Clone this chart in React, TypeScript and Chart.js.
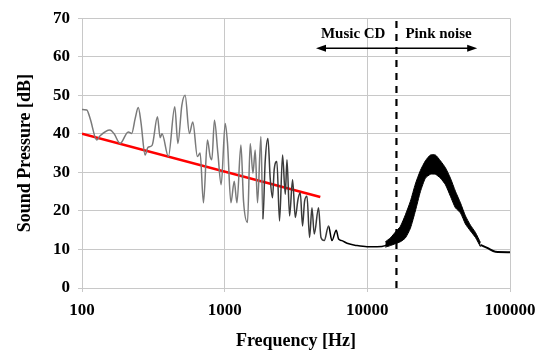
import React, { useEffect, useRef } from 'react';
import { Chart, registerables } from 'chart.js';

Chart.register(...registerables);

// Measured spectrum (music CD part and transition)
const freqHz = [100, 108, 114, 127, 134, 157, 168, 185, 211, 223, 236, 248, 259, 277, 290, 310, 338, 353, 364, 403, 447, 470, 501, 528, 566, 598, 644, 673, 710, 757, 791, 813, 848, 896, 945, 1009, 1047, 1106, 1167, 1219, 1300, 1356, 1446, 1510, 1578, 1637, 1699, 1795, 1854, 1923, 2010, 2085, 2164, 2224, 2323, 2424, 2546, 2660, 2734, 2851, 2992, 3126, 3266, 3388, 3516, 3631, 3776, 3937, 4091, 4246, 4550, 4732, 4989, 5348, 5649, 6053, 6289, 6637, 7206, 8472, 9954, 11695, 13366, 14894, 16144];
const soundDb = [46.3, 46.2, 44, 38.4, 39.5, 41, 40, 37.5, 40.5, 40.1, 44, 46.8, 43, 34.5, 36.5, 37, 44.4, 39, 40, 34.1, 47, 37.5, 47.4, 50, 40.1, 43.1, 34.1, 35, 22.1, 38.4, 34.1, 33.3, 43.5, 35, 26.8, 42.7, 37.5, 22.1, 27.7, 22.1, 37.1, 22.5, 17, 37.5, 29.8, 35.8, 22.1, 39.3, 17.8, 32.8, 38.8, 28.5, 23.4, 30.7, 32.8, 17.4, 34.5, 24.3, 33.3, 18.7, 28.1, 18.3, 23, 24.7, 16.1, 22.5, 23.8, 13.1, 20.8, 14, 20.8, 13.1, 12.3, 16.1, 12.3, 15, 12.7, 12.3, 11.6, 11, 10.7, 10.7, 11, 12.3, 13.1];

// Pink noise band (upper / lower envelope)
const bandHz = [13374, 14503, 15723, 17046, 18483, 20032, 21719, 23546, 25527, 27676, 30007, 32531, 35270, 38237, 41447, 44937, 48722, 52817, 57270, 62087];
const bandUpperDb = [12, 13, 14.5, 16, 19, 22.5, 27, 30.5, 33, 34.5, 34.5, 33, 31.2, 28.5, 25.1, 22.1, 18.7, 16.3, 14.4, 11.8];
const bandLowerDb = [10.6, 11, 11.5, 12, 13, 15.5, 20, 25, 28.5, 29.5, 29.5, 28.5, 26.8, 23.8, 20.8, 19.5, 16.6, 14.8, 13.1, 10.7];

// Tail after the pink-noise band
const tailHz = [62087, 69183, 79066, 100000];
const tailDb = [11.2, 10.4, 9.4, 9.3];

// Trend line
const trendHz = [100, 4680];
const trendDb = [40, 23.6];

// Boundary and annotations
const boundaryHz = 16000;
const musicCdArrowEndHz = 4365;
const pinkNoiseArrowEndHz = 58884;
const arrowDb = 62.2;
const labelDb = 64.8;
const musicCdLabel = 'Music CD';
const pinkNoiseLabel = 'Pink noise';

const xTicksHz = [100, 1000, 10000, 100000];
const yMin = 0;
const yMax = 70;
const yStep = 10;

const xTitle = 'Frequency [Hz]';
const yTitle = 'Sound Pressure [dB]';

const FONT = '"Liberation Serif", "Times New Roman", serif';

const pts = (xs: number[], ys: number[]) => xs.map((x, i) => ({ x, y: ys[i] }));

const annotationPlugin = {
  id: 'regionAnnotations',
  afterDatasetsDraw(chart: any) {
    const { ctx, scales } = chart;
    const x = scales.x;
    const y = scales.y;
    const yA = y.getPixelForValue(arrowDb);
    const yT = y.getPixelForValue(labelDb);
    const xL = x.getPixelForValue(musicCdArrowEndHz);
    const xM = x.getPixelForValue(boundaryHz);
    const xR = x.getPixelForValue(pinkNoiseArrowEndHz);
    ctx.save();
    ctx.strokeStyle = '#000';
    ctx.fillStyle = '#000';
    ctx.lineWidth = 1.5;
    ctx.beginPath();
    ctx.moveTo(xL + 8, yA);
    ctx.lineTo(xR - 8, yA);
    ctx.stroke();
    // arrow heads
    ctx.beginPath();
    ctx.moveTo(xL, yA);
    ctx.lineTo(xL + 10, yA - 3.5);
    ctx.lineTo(xL + 10, yA + 3.5);
    ctx.closePath();
    ctx.fill();
    ctx.beginPath();
    ctx.moveTo(xR, yA);
    ctx.lineTo(xR - 10, yA - 3.5);
    ctx.lineTo(xR - 10, yA + 3.5);
    ctx.closePath();
    ctx.fill();
    ctx.font = `bold 15px ${FONT}`;
    ctx.textBaseline = 'alphabetic';
    ctx.textAlign = 'right';
    ctx.fillText(musicCdLabel, xM - 11, yT);
    ctx.textAlign = 'left';
    ctx.fillText(pinkNoiseLabel, xM + 9, yT);
    ctx.restore();
  },
};

export default function App() {
  const canvasRef = useRef<HTMLCanvasElement | null>(null);

  useEffect(() => {
    if (!canvasRef.current) return;
    const chart = new Chart(canvasRef.current, {
      type: 'line',
      data: {
        datasets: [
          {
            label: 'Band upper',
            data: pts(bandHz, bandUpperDb),
            borderColor: '#000',
            backgroundColor: '#000',
            borderWidth: 1,
            pointRadius: 0,
            fill: '+1',
            tension: 0.2,
          },
          {
            label: 'Band lower',
            data: pts(bandHz, bandLowerDb),
            borderColor: '#000',
            borderWidth: 1,
            pointRadius: 0,
            fill: false,
            tension: 0.2,
          },
          {
            label: 'Spectrum',
            data: pts(freqHz, soundDb),
            borderColor: '#777',
            borderWidth: 1.5,
            pointRadius: 0,
            fill: false,
            cubicInterpolationMode: 'monotone',
            segment: {
              borderColor: (c: any) =>
                c.p0.parsed.x < 1800 ? '#7a7a7a' : c.p0.parsed.x < 5000 ? '#3a3a3a' : '#000',
            },
          },
          {
            label: 'Tail',
            data: pts(tailHz, tailDb),
            borderColor: '#000',
            borderWidth: 2,
            pointRadius: 0,
            fill: false,
            cubicInterpolationMode: 'monotone',
          },
          {
            label: 'Trend',
            data: pts(trendHz, trendDb),
            borderColor: '#ff0000',
            borderWidth: 2.5,
            pointRadius: 0,
            fill: false,
          },
          {
            label: 'Boundary',
            data: [
              { x: boundaryHz, y: yMin },
              { x: boundaryHz, y: yMax },
            ],
            borderColor: '#000',
            borderWidth: 2.2,
            borderDash: [7, 6],
            pointRadius: 0,
            fill: false,
          },
        ],
      },
      options: {
        animation: false,
        responsive: true,
        maintainAspectRatio: false,
        layout: { padding: { top: 15, right: 38, left: 0, bottom: 0 } },
        plugins: {
          legend: { display: false },
          tooltip: { enabled: false },
        },
        scales: {
          x: {
            type: 'logarithmic',
            min: 100,
            max: 100000,
            afterBuildTicks: (s: any) => {
              s.ticks = xTicksHz.map((v) => ({ value: v }));
            },
            afterFit: (s: any) => {
              s.height = 63;
            },
            grid: { color: '#c8c8c8', lineWidth: 1, tickLength: 4 },
            border: { color: '#c8c8c8' },
            ticks: {
              color: '#000',
              font: { family: FONT, size: 17, weight: 'bold' },
              padding: 8,
              maxRotation: 0,
              autoSkip: false,
              callback: (v: any) => String(v),
            },
            title: {
              display: true,
              text: xTitle,
              color: '#000',
              font: { family: FONT, size: 18, weight: 'bold', lineHeight: 1.1 },
              padding: { top: 0, bottom: 0 },
            },
          },
          y: {
            min: yMin,
            max: yMax,
            afterFit: (s: any) => {
              s.width = 82;
            },
            grid: { color: '#c8c8c8', lineWidth: 1, tickLength: 4 },
            border: { color: '#c8c8c8' },
            ticks: {
              stepSize: yStep,
              color: '#000',
              font: { family: FONT, size: 17, weight: 'bold' },
              padding: 8,
            },
            title: {
              display: true,
              text: yTitle,
              color: '#000',
              font: { family: FONT, size: 18, weight: 'bold', lineHeight: 1.1 },
              padding: { top: 15, bottom: 0 },
            },
          },
        },
      },
      plugins: [annotationPlugin],
    });
    return () => chart.destroy();
  }, []);

  return (
    <div style={{ position: 'absolute', left: 0, top: 0, width: 548, height: 351, background: '#fff' }}>
      <canvas ref={canvasRef} />
    </div>
  );
}
